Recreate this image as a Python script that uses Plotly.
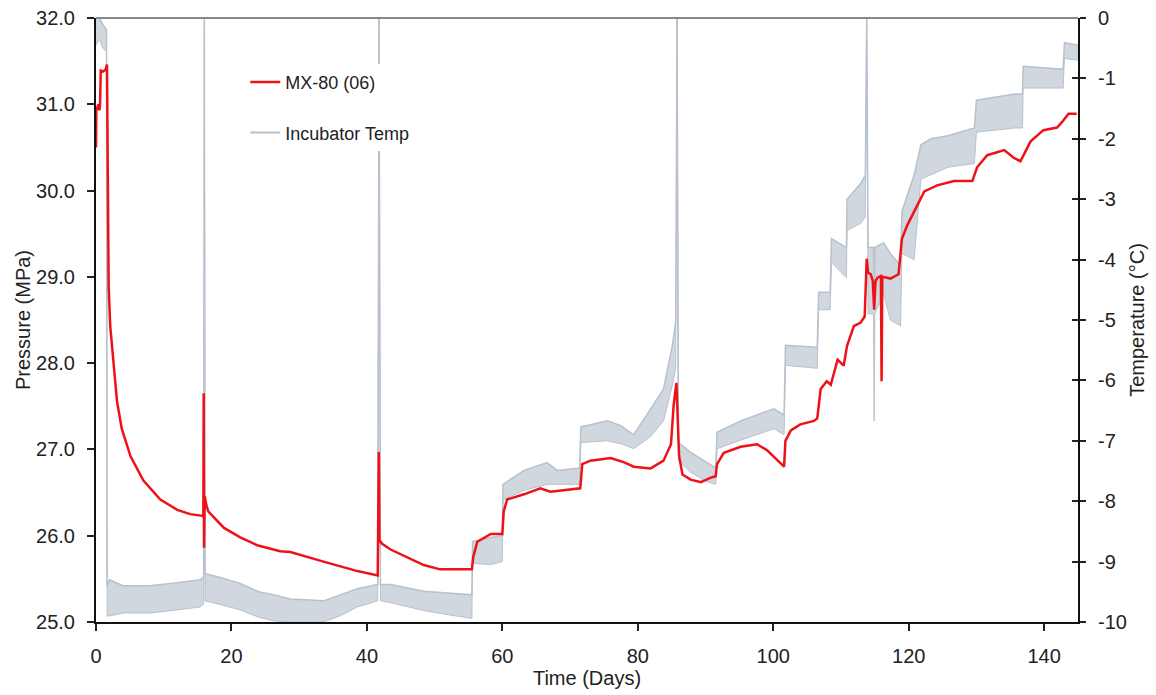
import plotly.graph_objects as go

# ---- Pressure, MX-80 (06) ----
pressure_day = [0.0, 0.05, 0.35, 0.5, 0.6, 0.7, 1.0, 1.4, 1.62, 1.7, 1.75, 1.87, 2.1, 2.6, 3.1,
                3.8, 5.1, 7.0, 9.5, 12.0, 13.9, 15.7, 15.85, 15.9, 15.95, 16.05, 16.3, 16.6,
                18.9, 21.3, 23.8, 27.2, 28.7, 33.6, 38.6, 41.6, 41.76, 41.85, 42.2, 43.5,
                45.9, 48.4, 50.8, 55.5, 55.7, 56.3, 58.3, 60.0, 60.2, 60.7, 63.2, 65.6, 67.1,
                71.5, 71.8, 73.0, 76.0, 78.0, 79.4, 81.9, 83.8, 84.9, 85.3, 85.7, 86.1, 86.6,
                87.8, 89.3, 90.7, 91.5, 91.7, 92.7, 95.2, 97.6, 99.1, 100.6, 101.6, 101.8,
                102.6, 104.0, 106.0, 106.5, 107.0, 107.9, 108.5, 109.5, 110.4, 110.9, 111.9,
                112.9, 113.5, 113.8, 114.0, 114.4, 114.7, 114.9, 115.1, 115.4, 115.9, 116.0,
                116.1, 116.8, 117.3, 118.5, 119.0, 119.8, 121.2, 122.3, 124.2, 126.7, 129.4,
                130.1, 131.6, 134.1, 135.5, 136.5, 138.0, 139.9, 141.9, 142.6, 143.6, 144.8]
pressure_mpa = [30.50, 30.93, 31.00, 30.93, 31.00, 31.39, 31.38, 31.40, 31.46, 30.40, 29.81,
                28.89, 28.43, 27.97, 27.56, 27.24, 26.92, 26.64, 26.42, 26.30, 26.25, 26.23,
                26.22, 27.65, 25.86, 26.46, 26.35, 26.28, 26.09, 25.98, 25.89, 25.82, 25.81,
                25.70, 25.59, 25.54, 26.97, 25.95, 25.91, 25.84, 25.75, 25.66, 25.61, 25.61,
                25.75, 25.93, 26.02, 26.02, 26.28, 26.42, 26.48, 26.55, 26.51, 26.55, 26.83,
                26.87, 26.90, 26.85, 26.80, 26.78, 26.87, 27.06, 27.52, 27.77, 26.92, 26.71,
                26.65, 26.62, 26.67, 26.69, 26.83, 26.96, 27.03, 27.06, 26.99, 26.87, 26.80,
                27.10, 27.22, 27.29, 27.33, 27.36, 27.70, 27.79, 27.75, 28.04, 27.97, 28.20,
                28.43, 28.47, 28.54, 29.21, 29.05, 29.03, 28.95, 28.62, 28.95, 28.99, 29.01,
                27.79, 29.00, 28.99, 28.98, 29.03, 29.44, 29.60, 29.81, 29.99, 30.06, 30.11,
                30.11, 30.27, 30.41, 30.47, 30.38, 30.34, 30.57, 30.70, 30.73, 30.79, 30.89,
                30.89]

# ---- Incubator temperature (oscillation band: low / high envelope) ----
temp_day = [0.0, 0.5, 1.0, 1.55, 1.65, 2.0, 4.0, 8.0, 12.0, 15.4, 15.9, 16.0, 16.1, 18.0,
            21.3, 24.0, 26.2, 28.7, 33.6, 36.0, 38.6, 41.6, 41.8, 42.0, 43.5, 48.4, 52.0,
            55.5, 55.6, 58.3, 60.0, 60.1, 63.2, 66.6, 68.1, 71.4, 71.6, 75.5, 77.5, 79.4,
            81.9, 83.8, 85.1, 85.6, 85.8, 86.0, 87.8, 90.2, 91.5, 91.7, 95.2, 100.1, 101.6,
            101.8, 106.5, 106.7, 108.4, 108.6, 110.8, 110.9, 112.9, 113.6, 113.8, 114.0,
            114.8, 114.9, 115.0, 116.3, 117.3, 118.8, 119.0, 120.8, 121.8, 123.3, 125.8,
            129.7, 130.0, 135.7, 136.8, 136.9, 142.8, 143.0, 145.0]
temp_low = [-0.45, -0.35, -0.5, -0.55, -9.9, -9.9, -9.85, -9.85, -9.8, -9.75, -9.7, 0.0,
            -9.65, -9.7, -9.8, -9.92, -9.98, -10.0, -10.0, -9.9, -9.75, -9.65, 0.0, -9.65,
            -9.68, -9.81, -9.88, -9.94, -9.03, -9.05, -9.0, -7.98, -7.82, -7.72, -7.72,
            -7.72, -7.03, -7.0, -7.05, -7.13, -6.93, -6.67, -6.08, -5.8, 0.0, -7.32, -7.52,
            -7.68, -7.72, -7.13, -6.99, -6.8, -6.9, -5.75, -5.8, -4.83, -4.83, -4.05, -4.3,
            -3.52, -3.4, -3.3, 0.0, -4.9, -4.9, -6.67, -4.9, -4.57, -5.0, -5.1, -3.9, -4.0,
            -2.67, -2.6, -2.47, -2.41, -1.89, -1.82, -1.82, -1.16, -1.16, -0.67, -0.7]
temp_high = [0.0, 0.0, -0.1, -0.2, -9.4, -9.3, -9.4, -9.4, -9.35, -9.3, -9.25, 0.0, -9.2,
             -9.25, -9.36, -9.5, -9.55, -9.62, -9.65, -9.55, -9.45, -9.38, 0.0, -9.38, -9.38,
             -9.49, -9.52, -9.55, -8.67, -8.6, -8.57, -7.72, -7.49, -7.36, -7.49, -7.45,
             -6.77, -6.67, -6.75, -6.9, -6.47, -6.14, -5.42, -5.03, 0.0, -7.03, -7.19, -7.35,
             -7.45, -6.86, -6.67, -6.47, -6.57, -5.42, -5.45, -4.54, -4.54, -3.65, -3.8,
             -3.0, -2.74, -2.6, 0.0, -3.8, -3.8, -4.5, -3.8, -3.72, -3.9, -4.1, -3.2, -2.6,
             -2.1, -2.0, -1.95, -1.82, -1.36, -1.26, -1.26, -0.8, -0.85, -0.41, -0.45]

x_ticks = [0, 20, 40, 60, 80, 100, 120, 140]
temp_ticks = [0, -1, -2, -3, -4, -5, -6, -7, -8, -9, -10]
temp_tick_labels = ["0", "-1", "-2", "-3", "-4", "-5", "-6", "-7", "-8", "-9", "-10"]

FONT = "Liberation Sans, Arial, sans-serif"
GRAY_LINE = "rgb(184,193,205)"
GRAY_FILL = "rgb(209,215,223)"
RED = "rgb(238,18,24)"

fig = go.Figure()

# Temperature band on primary (right-side) axis so that it is drawn underneath
fig.add_trace(go.Scatter(x=temp_day, y=temp_low, mode="lines",
                         line=dict(color=GRAY_LINE, width=1), showlegend=False,
                         hoverinfo="skip", yaxis="y"))
fig.add_trace(go.Scatter(x=temp_day, y=temp_high, mode="lines",
                         line=dict(color=GRAY_LINE, width=1.5), fill="tonexty",
                         fillcolor=GRAY_FILL, showlegend=False, yaxis="y"))

# Pressure on the overlaying (left-side) axis
fig.add_trace(go.Scatter(x=pressure_day, y=pressure_mpa, mode="lines",
                         line=dict(color=RED, width=2.5), name="MX-80 (06)",
                         legendgroup="p", showlegend=True, yaxis="y2"))

# legend entry for the temperature band (line sample only)
fig.add_trace(go.Scatter(x=[None], y=[None], mode="lines",
                         line=dict(color=GRAY_LINE, width=2), name="Incubator Temp",
                         legendgroup="t", yaxis="y"))

fig.update_layout(
    width=1156, height=695,
    margin=dict(l=96, r=78, t=18, b=73),
    paper_bgcolor="white", plot_bgcolor="white",
    font=dict(family=FONT, size=20, color="#222222"),
    xaxis=dict(range=[0, 145], tickvals=x_ticks, ticks="outside", ticklen=7,
               tickwidth=1.5, tickcolor="#222", showline=True, linecolor="#111",
               linewidth=2, showgrid=False, zeroline=False, ticklabelstandoff=8,
               automargin=False,
               title=dict(text="Time (Days)", standoff=2, font=dict(size=20)),
               tickfont=dict(size=20)),
    yaxis=dict(range=[-10, 0], tickvals=temp_ticks, ticktext=temp_tick_labels,
               side="right", ticks="outside", ticklen=6,
               tickwidth=1.5, tickcolor="#222", showline=True, linecolor="#111",
               linewidth=2, showgrid=False, zeroline=False, ticklabelstandoff=8,
               automargin=False,
               title=dict(text="Temperature (°C)", standoff=4, font=dict(size=20)),
               tickfont=dict(size=20)),
    yaxis2=dict(range=[25, 32], dtick=1, tickformat=".1f", side="left", overlaying="y",
                ticks="outside", ticklen=7, tickwidth=1.5, tickcolor="#222",
                showline=True, linecolor="#111", linewidth=2, showgrid=False,
                zeroline=False, ticklabelstandoff=8, automargin=False,
                title=dict(text="Pressure (MPa)", standoff=0, font=dict(size=20)),
                tickfont=dict(size=20)),
    yaxis3=dict(range=[-10, 0], dtick=1, side="right", overlaying="y", anchor="x",
                ticks="inside", ticklen=6, tickwidth=1.5, tickcolor="#222",
                showticklabels=False, showgrid=False, zeroline=False, showline=False,
                automargin=False),
    legend=dict(x=0.152, y=0.924, xanchor="left", yanchor="top",
                bgcolor="white", borderwidth=0, traceorder="grouped",
                tracegroupgap=24, font=dict(family=FONT, size=18, color="#222")),
    shapes=[dict(type="line", xref="paper", yref="paper", x0=0, x1=1, y0=1, y1=1,
                 line=dict(color="#888888", width=2))],
    showlegend=True,
)

# invisible trace to activate inside tick marks of yaxis3
fig.add_trace(go.Scatter(x=[None], y=[None], yaxis="y3", showlegend=False))

fig.write_html("out.html")
